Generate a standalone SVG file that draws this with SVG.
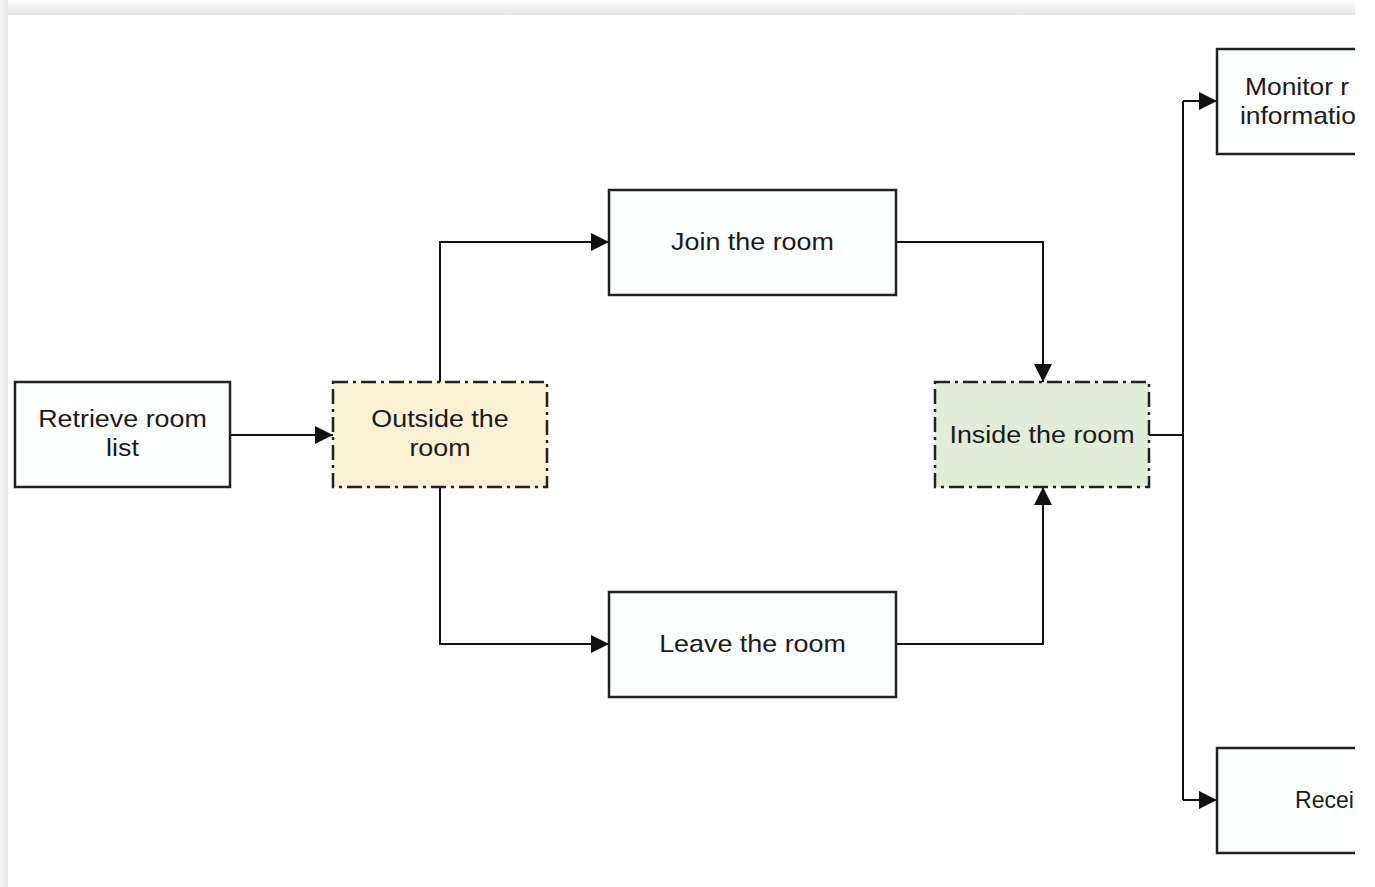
<svg xmlns="http://www.w3.org/2000/svg" width="1375" height="887" viewBox="0 0 1375 887">
  <defs>
    <linearGradient id="shadeTop" x1="0" y1="0" x2="0" y2="1">
      <stop offset="0" stop-color="#fdfdfd"/>
      <stop offset="1" stop-color="#e6e6e6"/>
    </linearGradient>
    <linearGradient id="shadeLeft" x1="0" y1="0" x2="1" y2="0">
      <stop offset="0" stop-color="#fafafa"/>
      <stop offset="1" stop-color="#e4e4e4"/>
    </linearGradient>
    <clipPath id="panelClip">
      <rect x="8" y="15" width="1347" height="872"/>
    </clipPath>
    <marker id="arrow" viewBox="0 0 18 18" refX="18" refY="9" markerWidth="18" markerHeight="18" markerUnits="userSpaceOnUse" orient="auto">
      <path d="M0,0 L18,9 L0,18 Z" fill="#111"/>
    </marker>
    <style>
      .box { fill: #fdfefe; stroke: #222; stroke-width: 2.5; }
      .state { stroke: #222; stroke-width: 2.5; stroke-dasharray: 15 5 3 5; }
      .outside { fill: #fbf1d5; }
      .inside { fill: #e2edd9; }
      .label { font-family: "Liberation Sans", Arial, sans-serif; font-size: 24px; fill: #1a1a1a; }
      .link { fill: none; stroke: #111; stroke-width: 2; marker-end: url(#arrow); }
      .plain { fill: none; stroke: #111; stroke-width: 2; }
    </style>
  </defs>

  <!-- page backdrop with soft edge shading -->
  <rect x="0" y="0" width="1375" height="887" fill="#ffffff"/>
  <rect x="0" y="0" width="1355" height="15" fill="url(#shadeTop)"/>
  <rect x="0" y="0" width="8" height="887" fill="url(#shadeLeft)"/>
  <rect x="8" y="15" width="1347" height="872" fill="#ffffff"/>

  <g clip-path="url(#panelClip)">
    <!-- connectors -->
    <g id="connectors">
      <path class="link" d="M230,435 L333,435"/>
      <path class="link" d="M440,382 L440,242 L609,242"/>
      <path class="link" d="M440,487 L440,644 L609,644"/>
      <path class="link" d="M896,242 L1043,242 L1043,382"/>
      <path class="link" d="M896,644 L1043,644 L1043,487"/>
      <path class="plain" d="M1149,435 L1183,435"/>
      <path class="plain" d="M1183,101 L1183,800"/>
      <path class="link" d="M1183,101 L1217,101"/>
      <path class="link" d="M1183,800 L1217,800"/>
    </g>

    <g id="retrieve-room-list">
      <rect class="box" x="15" y="382" width="215" height="105"/>
      <text class="label" text-anchor="middle" transform="translate(122.5,427) scale(1.12,1)">Retrieve room</text>
      <text class="label" text-anchor="middle" transform="translate(122.5,456) scale(1.12,1)">list</text>
    </g>

    <g id="outside-the-room">
      <rect class="state outside" x="333" y="382" width="214" height="105"/>
      <text class="label" text-anchor="middle" transform="translate(440,427) scale(1.12,1)">Outside the</text>
      <text class="label" text-anchor="middle" transform="translate(440,456) scale(1.12,1)">room</text>
    </g>

    <g id="join-the-room">
      <rect class="box" x="609" y="190" width="287" height="105"/>
      <text class="label" text-anchor="middle" transform="translate(752.5,250) scale(1.12,1)">Join the room</text>
    </g>

    <g id="leave-the-room">
      <rect class="box" x="609" y="592" width="287" height="105"/>
      <text class="label" text-anchor="middle" transform="translate(752.5,652) scale(1.12,1)">Leave the room</text>
    </g>

    <g id="inside-the-room">
      <rect class="state inside" x="935" y="382" width="214" height="105"/>
      <text class="label" text-anchor="middle" transform="translate(1042,443) scale(1.12,1)">Inside the room</text>
    </g>

    <g id="monitor-information">
      <rect class="box" x="1217" y="49" width="200" height="105"/>
      <text class="label" transform="translate(1245,95) scale(1.1,1)">Monitor r</text>
      <text class="label" transform="translate(1240,124) scale(1.1,1)">informatio</text>
    </g>

    <g id="receive">
      <rect class="box" x="1217" y="748" width="200" height="105"/>
      <text class="label" transform="translate(1295,808) scale(0.96,1)">Recei</text>
    </g>
  </g>
</svg>
